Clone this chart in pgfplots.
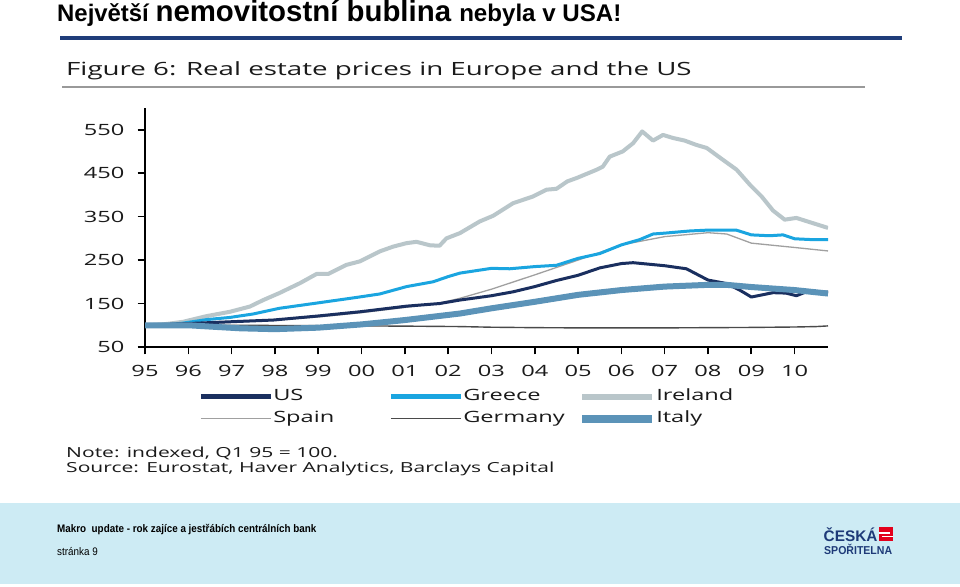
\documentclass[border=0pt]{standalone}
\usepackage{fontspec}
\usepackage{pgfplots}
\pgfplotsset{compat=1.18}
\newfontfamily\chartfont{Open Sans}[FakeStretch=1.52]
\newfontfamily\titlefont{Liberation Sans}
\newfontfamily\narrowfont{Liberation Sans}[FakeStretch=0.9]
\newfontfamily\logofont{Liberation Sans}[FakeStretch=0.92]
\definecolor{navyrule}{HTML}{1F3D7A}
\definecolor{usc}{HTML}{1A2F5F}
\definecolor{grc}{HTML}{1AA5E0}
\definecolor{irc}{HTML}{B9C6CA}
\definecolor{spc}{HTML}{A0A0A0}
\definecolor{dec}{HTML}{4A4A4A}
\definecolor{itc}{HTML}{5B93B8}
\definecolor{footerc}{HTML}{CDEBF4}
\definecolor{logoc}{HTML}{1E3A78}
\definecolor{logored}{HTML}{E3001B}
\definecolor{txt}{HTML}{1A1A1A}
\begin{document}
\begin{tikzpicture}[x=1bp,y=1bp]
\useasboundingbox (0,0) rectangle (960,587);
\fill[white] (0,0) rectangle (960,587);
% title
\node[anchor=base west, inner sep=0pt] at (57,565.5) {\titlefont\bfseries\fontsize{24}{26}\selectfont Největší \fontsize{29.5}{30}\selectfont nemovitostní bublina \fontsize{24.2}{26}\selectfont nebyla v USA!};
\fill[navyrule] (60,547) rectangle (902,550.5);
\node[anchor=base west, inner sep=0pt, text=txt] at (66,511) {\chartfont\fontsize{18.3}{20}\selectfont Figure 6: Real estate prices in Europe and the US};
\fill[gray!80] (62,499) rectangle (865,501);
% footer
\fill[footerc] (0,3) rectangle (960,84);
\node[anchor=base west, inner sep=0pt] at (57,54) {\narrowfont\bfseries\fontsize{11}{12}\selectfont Makro\ \ update - rok zajíce a jestřábích centrálních bank};
\node[anchor=base west, inner sep=0pt] at (57,31) {\narrowfont\fontsize{11}{12}\selectfont stránka 9};
\node[anchor=base west, inner sep=0pt, text=logoc] at (823.5,45) {\titlefont\bfseries\fontsize{15.4}{16}\selectfont ČESKÁ};
\node[anchor=base west, inner sep=0pt, text=logoc] at (824,32) {\logofont\bfseries\fontsize{11.5}{12}\selectfont SPOŘITELNA};
\fill[logored] (878.5,45.5) rectangle (893,60);
\fill[white] (878.5,53.4) rectangle (890,55.2);
\fill[white] (881.5,49.6) rectangle (893,51.4);
% notes
\node[anchor=base west, inner sep=0pt, text=txt] at (66,129) {\chartfont\fontsize{13.9}{15}\selectfont Note: indexed, Q1 95 = 100.};
\node[anchor=base west, inner sep=0pt, text=txt] at (66,114) {\chartfont\fontsize{13.9}{15}\selectfont Source: Eurostat, Haver Analytics, Barclays Capital};
\begin{axis}[
  at={(145bp,240bp)}, anchor=south west, scale only axis,
  width=683bp, height=239bp,
  xmin=1995, xmax=2010.77, ymin=50, ymax=600,
  axis x line*=bottom, axis y line*=left,
  x axis line style={-, line width=2bp, black},
  y axis line style={-, line width=2.5bp, black},
  xtick={1995,...,2010},
  xticklabels={95,96,97,98,99,00,01,02,03,04,05,06,07,08,09,10},
  ytick={50,150,...,550},
  tick align=outside, major tick length=7.5bp,
  tick style={line width=1.6bp, black},
  /pgf/number format/assume math mode=true,
  ticklabel style={font=\chartfont\fontsize{15.6}{17}\selectfont, text=txt, inner sep=0pt},
  yticklabel style={xshift=-13bp},
  xticklabel style={yshift=-10.5bp},
  legend columns=3,
  legend cell align=left,
  legend style={draw=none, fill=none, at={(0.0777,-0.1745)}, anchor=north west,
    inner sep=0pt, row sep=6.5bp,
    nodes={inner sep=0pt, text height=12bp, text depth=3.5bp, font=\chartfont\fontsize{15.6}{17}\selectfont, text=txt}},
  legend image code/.code={\draw[#1] (0bp,0bp) -- (70bp,0bp);},
  line join=round,
]
\addplot[forget plot, spc, line width=1.3bp] coordinates {
(1995,100) (1996,102) (1997,107) (1998,112) (1999,119) (2000,129) (2001,141) (2001.8,151) (2002.27,162) (2003,183) (2004,216) (2005,250) (2006,285) (2007,304) (2008,313) (2008.43,310) (2009,289) (2010,279) (2010.77,271)
};
\addplot[forget plot, dec, line width=1.4bp] coordinates {
(1995,100) (1996,100.5) (1997,100) (1998,99.5) (1999,99) (2000,98.5) (2001,98) (2002.27,97) (2003,95.5) (2004,94.5) (2005,94) (2006,94) (2007,94) (2008,94.5) (2009,95) (2010,96) (2010.5,97) (2010.77,98.5)
};
\addplot[forget plot, irc, line width=4bp] coordinates {
(1995.0,100) (1995.5,103) (1995.88,108) (1996.42,121) (1996.96,131) (1997.42,143) (1997.73,158) (1998.1,174) (1998.58,197) (1998.96,218) (1999.23,218) (1999.65,239) (1999.96,247) (2000.42,270) (2000.73,281) (2001.04,289) (2001.27,292) (2001.58,284) (2001.8,283) (2001.96,300) (2002.27,312) (2002.73,339) (2003.04,352) (2003.5,381) (2003.95,396) (2004.27,412) (2004.5,414) (2004.75,431) (2004.97,439) (2005.43,458) (2005.57,465) (2005.73,488) (2006.03,500) (2006.27,519) (2006.48,546) (2006.73,525) (2006.96,538) (2007.19,531) (2007.46,525) (2007.73,515) (2007.97,508) (2008.34,481) (2008.66,458) (2008.97,423) (2009.24,396) (2009.5,364) (2009.77,343) (2010.04,347) (2010.42,335) (2010.77,324)
};
\addplot[forget plot, grc, line width=3bp] coordinates {
(1995.0,100) (1995.5,101) (1995.88,105) (1996.42,113) (1996.96,118) (1997.5,126) (1998.1,139) (1998.96,151) (1999.88,164) (2000.42,172) (2001.04,189) (2001.65,200) (2002.0,212) (2002.27,220) (2003.0,231) (2003.42,230) (2004.0,235) (2004.5,238) (2005.0,254) (2005.5,265) (2006.0,285) (2006.42,297) (2006.73,310) (2007.0,312) (2007.58,317) (2008.0,319) (2008.65,319) (2009.0,308) (2009.42,306) (2009.73,308) (2010.0,299) (2010.42,297) (2010.77,297)
};
\addplot[forget plot, usc, line width=3bp] coordinates {
(1995,100) (1996,104) (1996.96,108) (1997.96,112) (1998.96,121) (1999.96,131) (2001.04,144) (2001.8,150) (2002.27,158) (2003,168) (2003.5,177) (2004,189) (2004.5,203) (2005,215) (2005.5,232) (2006,242) (2006.27,244) (2007,237) (2007.5,230) (2008,204) (2008.43,196) (2008.73,181) (2009,165) (2009.5,175) (2009.8,174) (2010.04,168) (2010.27,177) (2010.77,176)
};
\addplot[forget plot, itc, line width=6bp] coordinates {
(1995,100) (1996,100) (1996.5,97) (1997.2,93) (1998,91) (1999,94.5) (2000,102) (2001,112) (2002.27,127) (2003,139) (2004,154) (2005,170) (2006,181) (2007,189) (2008,193) (2008.43,193) (2009,188) (2010,181) (2010.77,173)
};
\addlegendimage{usc, line width=5bp}
\addlegendentry{\makebox[115bp][l]{US}}
\addlegendimage{grc, line width=5bp}
\addlegendentry{\makebox[115bp][l]{Greece}}
\addlegendimage{irc, line width=6bp}
\addlegendentry{\makebox[115bp][l]{Ireland}}
\addlegendimage{spc, line width=1.5bp}
\addlegendentry{\makebox[115bp][l]{Spain}}
\addlegendimage{dec, line width=1.5bp}
\addlegendentry{\makebox[115bp][l]{Germany}}
\addlegendimage{itc, line width=8bp}
\addlegendentry{\makebox[115bp][l]{Italy}}
\end{axis}
\end{tikzpicture}
\end{document}
